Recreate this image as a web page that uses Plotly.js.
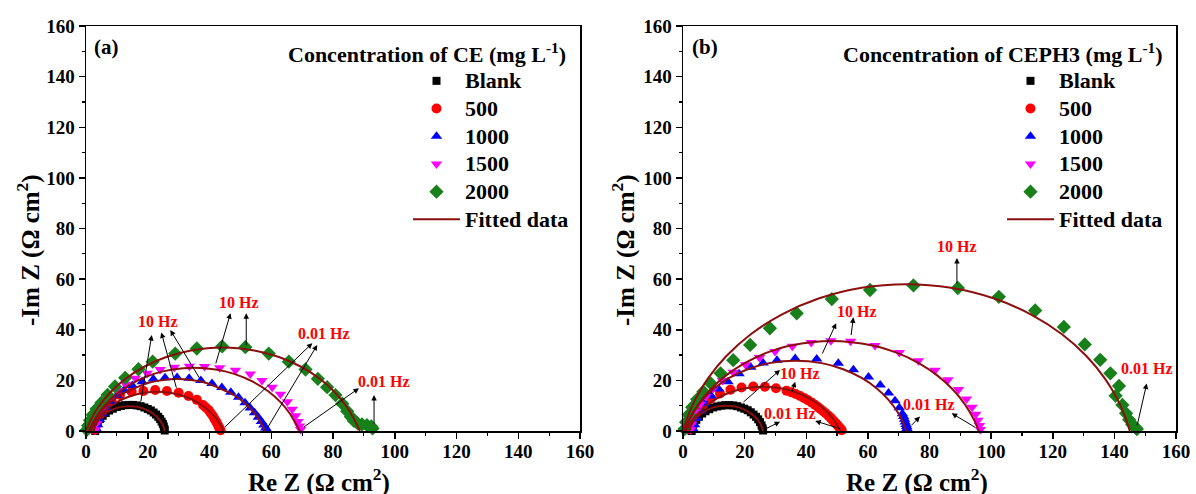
<!DOCTYPE html>
<html>
<head>
<meta charset="utf-8">
<script src="https://cdn.plot.ly/plotly-3.0.1.min.js"></script>
<style>
  html, body { margin: 0; padding: 0; background: #ffffff; }
  #chart { width: 1196px; height: 494px; }
</style>
</head>
<body>
<div id="chart"></div>
<script>
// ---------- Panel (a): CE ----------
const seriesNames = ['Blank', '500', '1000', '1500', '2000'];

const reA_blank = [3.0,3.3,3.8,4.5,5.4,6.4,7.5,8.7,10.0,11.3,12.6,13.9,15.2,16.5,17.7,18.9,20.0,21.0,21.9,22.7,23.4,24.0,24.5,24.9,25.2,25.4,25.5];
const imA_blank = [0.0,1.8,3.3,4.7,6.0,7.1,8.1,8.8,9.5,9.9,10.2,10.3,10.3,10.1,9.8,9.3,8.7,8.1,7.3,6.5,5.6,4.7,3.7,2.8,1.8,0.8,0.2];
const reA_500 = [2.8,3.2,3.9,4.9,6.2,8.3,11.0,14.8,18.6,22.4,26.2,30.0,33.2,35.9,37.9,38.8,39.7,40.4,41.1,41.6,42.2,42.6,43.0,43.3,43.6];
const imA_500 = [0.5,2.5,4.6,7.0,9.4,12.0,14.2,15.5,15.8,16.2,15.8,15.1,13.8,12.3,10.3,9.3,8.3,7.1,5.9,4.8,3.7,2.7,1.7,1.0,0.3];
const reA_1000 = [3.5,3.8,4.4,5.3,6.5,8.0,10.0,12.3,15.0,18.2,21.8,25.6,29.5,33.4,37.2,40.8,44.0,46.9,49.4,51.5,53.2,54.6,55.8,56.8,57.6,58.2,58.6];
const imA_1000 = [0.5,2.5,4.5,6.8,9.2,11.6,14.0,16.2,18.0,19.5,20.5,21.0,21.1,20.8,20.0,18.8,17.2,15.3,13.3,11.2,9.1,7.2,5.4,3.8,2.4,1.2,0.4];
const reA_1500 = [3.0,3.3,4.0,5.0,6.3,8.0,10.2,12.8,16.0,19.8,24.0,28.6,33.5,38.4,43.3,48.4,53.2,57.0,60.3,63.0,65.2,66.8,67.9,68.7,69.2,69.5];
const imA_1500 = [0.5,3.0,5.5,8.0,10.6,13.3,16.0,18.5,20.8,22.8,24.3,25.2,25.6,25.5,25.0,24.0,22.5,20.0,17.3,14.5,11.6,8.6,6.0,3.8,2.0,0.6];
const reA_2000 = [0.3,0.7,1.3,2.2,3.4,5.0,7.0,9.4,12.7,17.0,21.6,28.9,35.9,44.1,51.6,59.2,65.7,71.1,75.1,78.1,80.8,83.0,84.6,85.8,86.8,88.0,89.4,91.0,92.4,92.8];
const imA_2000 = [0.5,2.2,4.2,6.4,8.7,11.2,14.3,17.6,21.0,24.4,27.4,30.6,32.6,33.4,33.1,30.6,27.4,24.3,20.6,17.3,14.2,10.8,7.8,5.6,4.0,3.0,2.6,2.3,1.8,1.0];

// equivalent-circuit fits, panel (a)
const fitReA_blank = [2.5,3,4,5,6,8,10,12,14,16,18,20,22,23,24,24.5,25,25.5];
const fitImA_blank = [0,1.98,4.12,5.55,6.62,8.14,9.11,9.63,9.8,9.63,9.11,8.14,6.62,5.55,4.12,3.19,1.98,0];
const fitReA_500 = [1.5,2.5,4,6,9,12,15,18,21,23,25,28,31,34,37,40,42,43.5,44.5];
const fitImA_500 = [0,2.5,5.19,7.82,10.66,12.65,14.04,14.94,15.41,15.5,15.41,14.94,14.04,12.65,10.66,7.82,5.19,2.5,0];
const fitReA_1000 = [1,2,4,7,11,15,20,25,29.5,34,39,44,48,52,55,57,58];
const fitImA_1000 = [0,2.58,6.36,10.37,14.13,16.47,18.96,20.16,20.5,20.16,18.96,16.47,14.13,10.37,6.36,2.58,0];
const fitReA_1500 = [1,2,4,7,11,16,22,28,35,42,48,54,59,63,66,68,69.3];
const fitImA_1500 = [0,2.79,6.92,11.4,15.7,19.5,22.58,24.31,25,24.31,22.58,19.5,15.7,11.4,6.92,2.79,0];
const fitReA_2000 = [0,1.5,4,8,13,19,26,34,44.25,54.5,62.5,69.5,75.5,80.5,84.5,87,88.7];
const fitImA_2000 = [0,4.26,9.47,15.42,20.81,25.48,29.24,31.83,33,31.83,29.24,25.48,20.81,15.42,9.47,4.26,0];

// ---------- Panel (b): CEPH3 ----------
const reB_blank = [2.8,3.1,3.6,4.3,5.2,6.2,7.3,8.5,9.8,11.1,12.4,13.7,15.0,16.3,17.6,18.8,19.9,21.0,22.0,22.9,23.7,24.4,25.0,25.5,25.8,26.0];
const imB_blank = [0,1.5,3.0,4.4,5.7,6.9,7.8,8.6,9.3,9.7,10.0,10.2,10.2,10.1,9.8,9.3,8.8,8.2,7.4,6.5,5.6,4.6,3.5,2.2,1.1,0.2];
const reB_500 = [1.6,2.2,3.2,4.6,6.5,9.0,12.0,15.4,19.0,22.8,26.6,30.2,33.6,35.1,36.6,38.0,39.3,40.5,41.7,42.8,43.8,44.7,45.6,46.4,47.2,47.9,48.5,49.1,49.6,50.1,50.5,50.8,51.1,51.3,51.5];
const imB_500 = [0.8,3.0,5.5,8.0,10.5,12.8,14.8,16.3,17.2,17.6,17.5,16.9,15.9,15.3,14.6,13.8,13.0,12.2,11.3,10.4,9.5,8.6,7.7,6.9,6.0,5.2,4.4,3.7,3.0,2.4,1.8,1.3,0.9,0.6,0.3];
const reB_1000 = [3.5,3.8,4.5,5.6,7.2,9.2,11.6,14.6,18.2,22.0,26.0,30.5,36.4,43.4,50.4,55.3,60.2,64.0,66.7,68.8,70.2,71.2,71.6,71.9,72.1,72.4,72.6,72.7];
const imB_1000 = [0.5,2.5,5.0,7.8,10.8,13.8,16.6,19.5,22.6,25.2,26.9,28.0,28.6,28.4,26.8,24.2,21.3,18.2,15.0,12.0,9.2,6.8,5.7,4.6,3.6,2.6,1.8,1.0];
const reB_1500 = [2.5,2.8,3.4,4.3,5.6,7.4,9.8,12.8,16.3,20.3,24.8,29.9,35.5,41.6,48.0,54.4,62.3,70.2,76.4,81.8,86.0,89.4,92.0,93.8,95.0,95.7,96.2,96.5];
const imB_1500 = [0.5,2.8,5.2,7.8,10.6,13.6,16.8,20.0,23.2,26.2,29.0,31.4,33.5,35.0,35.7,35.5,33.8,31.0,27.8,24.0,20.2,16.4,12.6,9.4,6.6,4.2,2.2,0.6];
const reB_2000 = [0.5,1.0,1.8,3.0,4.6,6.6,9.0,12.2,16.3,21.8,28.2,36.9,48.3,60.7,74.8,89.2,102.5,114.3,123.6,130.4,135.4,138.7,141.5,140.4,142.6,143.8,144.8,145.8,146.8,147.3];
const imB_2000 = [0.8,3.5,6.4,9.4,12.5,15.5,18.8,22.8,28.0,34.0,40.6,46.5,52.1,55.7,57.5,56.5,53.0,47.6,41.1,34.2,28.1,22.8,17.8,13.9,10.3,7.0,4.4,2.6,1.4,0.8];

// equivalent-circuit fits, panel (b)
const fitReB_blank = [2,2.5,3.5,5,7,9,11.5,14,16.5,19,21,23,24.5,25.5,26];
const fitImB_blank = [0,1.87,4.0,6.03,7.79,8.93,9.74,10,9.74,8.93,7.79,6.03,4.0,1.87,0];
const fitReB_500 = [1,2,3.5,6,9,13,18,22,26,30,34,39,43,46,48.5,50,51];
const fitImB_500 = [0,2.38,5.09,8.44,11.36,14.11,16.27,17.19,17.5,17.19,16.27,14.11,11.36,8.44,5.09,2.38,0];
const fitReB_1000 = [0.5,1.5,3,6,10,15,21,28,36.5,45,52,58,63,67,70,71.5,72.5];
const fitImB_1000 = [0,3.22,6.79,11.91,16.71,20.96,24.42,26.82,27.8,26.82,24.42,20.96,16.71,11.91,6.79,3.22,0];
const fitReB_1500 = [0.5,2,5,9,14,20,27,35,48.25,61.5,69.5,76.5,82.5,87.5,91.5,94.5,96];
const fitImB_1500 = [0,4.31,10.51,16.47,21.96,26.82,30.84,33.81,35.6,33.81,30.84,26.82,21.96,16.47,10.51,4.31,0];
const fitReB_2000 = [0,1.5,4,8,14,22,32,44,58,72.5,87,101,113,123,131,137,141,143.5,145];
const fitImB_2000 = [0,5.62,12.5,20.59,29.51,38.21,45.99,52.32,56.57,58,56.57,52.32,45.99,38.21,29.51,20.59,12.5,5.62,0];

// ---------- styling ----------
const FONT = 'Liberation Serif';
const FIT_COLOR = '#8c0f0f';
const markerStyles = [
  {symbol: 'square',        color: '#000000', size: 8},
  {symbol: 'circle',        color: '#ff0000', size: 10},
  {symbol: 'triangle-up',   color: '#0000ff', size: 10},
  {symbol: 'triangle-down', color: '#ff00ff', size: 10},
  {symbol: 'diamond',       color: '#17801a', size: 11}
];

const dataA = [[reA_blank, imA_blank], [reA_500, imA_500], [reA_1000, imA_1000], [reA_1500, imA_1500], [reA_2000, imA_2000]];
const fitsA = [[fitReA_blank, fitImA_blank], [fitReA_500, fitImA_500], [fitReA_1000, fitImA_1000], [fitReA_1500, fitImA_1500], [fitReA_2000, fitImA_2000]];
const dataB = [[reB_blank, imB_blank], [reB_500, imB_500], [reB_1000, imB_1000], [reB_1500, imB_1500], [reB_2000, imB_2000]];
const fitsB = [[fitReB_blank, fitImB_blank], [fitReB_500, fitImB_500], [fitReB_1000, fitImB_1000], [fitReB_1500, fitImB_1500], [fitReB_2000, fitImB_2000]];

// legend entries: rows spaced for 19px type, drawn a little larger
const legendLabel = s => '<span style="font-size:22px">' + s + '</span>';

function panelTraces(data, fits, xa, ya, legendId) {
  const out = [];
  data.forEach((d, i) => {
    const m = markerStyles[i];
    out.push({
      type: 'scatter', mode: 'markers', x: d[0], y: d[1], xaxis: xa, yaxis: ya,
      name: legendLabel(seriesNames[i]), legend: legendId, cliponaxis: false,
      marker: {symbol: m.symbol, color: m.color, size: m.size, line: {width: 0}}
    });
  });
  fits.forEach((f, i) => {
    out.push({
      type: 'scatter', mode: 'lines', x: f[0], y: f[1], xaxis: xa, yaxis: ya,
      name: legendLabel('Fitted data'), legend: legendId, showlegend: i === 0, cliponaxis: false,
      line: {color: FIT_COLOR, width: 2, shape: 'spline', smoothing: 1}
    });
  });
  return out;
}

const traces = panelTraces(dataA, fitsA, 'x', 'y', 'legend')
  .concat(panelTraces(dataB, fitsB, 'x2', 'y2', 'legend2'));

function axis(domain, anchor, isX) {
  return {
    domain: domain, anchor: anchor, range: [0, 160], dtick: 20, tick0: 0,
    showgrid: false, zeroline: false, showline: true, mirror: true,
    linecolor: '#000', linewidth: 1.5,
    ticks: 'outside', ticklen: 6, tickwidth: 1.5, tickcolor: '#000',
    ticklabelstandoff: isX ? -3 : 0,
    minor: {dtick: 10, ticks: 'outside', ticklen: 3, tickwidth: 1.2, tickcolor: '#000'},
    tickfont: {family: FONT, size: 19, color: '#000', weight: 'bold'},
    fixedrange: true
  };
}

const W = 1196, H = 494;
const px = v => v / W;
const py = v => 1 - v / H;

// frequency markers: arrows (head = label end, tail = data point)
const arrowsA = [
  [21.3, 37.9, 17.7, 11.2], [24.4, 38.9, 29.4, 16.5], [27.3, 39.9, 37.0, 20.4],
  [46.8, 46.5, 41.9, 26.1], [51.9, 46.5, 51.9, 33.3],
  [73.3, 34.7, 44.6, 1.1], [74.9, 34.0, 58.7, 1.1],
  [88.4, 16.9, 70.0, 1.1], [93.3, 14.2, 93.3, 2.4]
];
const labelsA = [[23.4, 43.1, '10 Hz'], [49.4, 50.7, '10 Hz'], [77.0, 38.6, '0.01 Hz'], [96.4, 19.5, '0.01 Hz']];
const arrowsB = [
  [88.9, 68.3, 88.9, 57.7],
  [49.7, 42.6, 45.0, 30.0], [55.3, 44.9, 54.5, 37.3],
  [31.5, 24.1, 19.1, 10.9], [36.4, 19.5, 35.3, 14.9],
  [31.5, 3.7, 26.1, 0.4], [42.9, 4.0, 51.5, 0.7],
  [76.9, 5.7, 73.7, 1.7], [87.2, 7.0, 95.3, 1.1],
  [150.5, 18.8, 147.3, 1.7]
];
const labelsB = [[88.9, 72.8, '10 Hz'], [56.4, 47.2, '10 Hz'], [38.0, 22.8, '10 Hz'],
                 [34.7, 7.0, '0.01 Hz'], [79.7, 10.3, '0.01 Hz'], [150.5, 24.8, '0.01 Hz']];

const annotations = [];
function addFreq(arrows, labels, xr, yr) {
  arrows.forEach(a => annotations.push({
    x: a[0], y: a[1], ax: a[2], ay: a[3], xref: xr, yref: yr, axref: xr, ayref: yr,
    text: '', showarrow: true, arrowhead: 2, arrowsize: 1.1, arrowwidth: 1, arrowcolor: '#000', standoff: 0, startstandoff: 0
  }));
  labels.forEach(l => annotations.push({
    x: l[0], y: l[1], xref: xr, yref: yr, text: '<b>' + l[2] + '</b>', showarrow: false,
    xanchor: 'center', yanchor: 'middle',
    font: {family: FONT, size: 16, color: '#ff0000'}
  }));
}
addFreq(arrowsA, labelsA, 'x', 'y');
addFreq(arrowsB, labelsB, 'x2', 'y2');

function paperText(x, y, text, size, opts) {
  annotations.push(Object.assign({
    x: px(x), y: py(y), xref: 'paper', yref: 'paper', text: text, showarrow: false,
    xanchor: 'center', yanchor: 'middle',
    font: {family: FONT, size: size, color: '#000'}
  }, opts || {}));
}
paperText(92, 47, '<b>(a)</b>', 21, {xanchor: 'left'});
paperText(690, 47, '<b>(b)</b>', 21, {xanchor: 'left'});
paperText(568, 53, '<b>Concentration of CE (mg L<sup>-1</sup>)</b>', 22, {xanchor: 'right'});
paperText(1165, 53, '<b>Concentration of CEPH3 (mg L<sup>-1</sup>)</b>', 22, {xanchor: 'right'});
paperText(28, 250, '<b>-Im Z (Ω cm<sup>2</sup>)</b>', 25, {textangle: -90});
paperText(623, 250, '<b>-Im Z (Ω cm<sup>2</sup>)</b>', 25, {textangle: -90});
paperText(319, 480, '<b>Re Z (Ω cm<sup>2</sup>)</b>', 25);
paperText(917, 480, '<b>Re Z (Ω cm<sup>2</sup>)</b>', 25);

const legendStyle = {
  font: {family: FONT, size: 19, color: '#000', weight: 'bold'},
  bgcolor: 'rgba(0,0,0,0)', borderwidth: 0, itemwidth: 47,
  xanchor: 'left', yanchor: 'top', traceorder: 'normal'
};

const layout = {
  width: W, height: H,
  margin: {l: 0, r: 0, t: 0, b: 0},
  paper_bgcolor: '#fff', plot_bgcolor: '#fff',
  font: {family: FONT, color: '#000'},
  showlegend: true,
  xaxis: axis([px(86), px(580)], 'y', true),
  yaxis: axis([py(431), py(26)], 'x', false),
  xaxis2: axis([px(683), px(1176)], 'y2', true),
  yaxis2: axis([py(431), py(26)], 'x2', false),
  legend: Object.assign({x: px(408), y: py(62)}, legendStyle),
  legend2: Object.assign({x: px(1002), y: py(62)}, legendStyle),
  annotations: annotations
};

Plotly.newPlot('chart', traces, layout, {staticPlot: true, displayModeBar: false});
</script>
</body>
</html>
